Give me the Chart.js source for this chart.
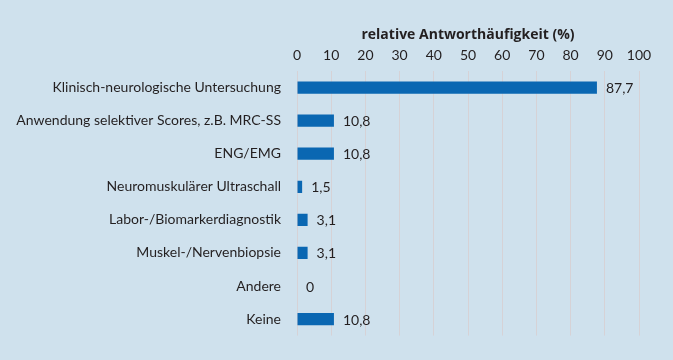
<!DOCTYPE html>
<html>
<head>
<meta charset="utf-8">
<script src="https://cdn.jsdelivr.net/npm/chart.js@4/dist/chart.umd.min.js"></script>
<style>
  html, body { margin: 0; padding: 0; background: #cfe1ed; }
  #wrap { width: 673px; height: 360px; }
</style>
</head>
<body>
<div id="wrap"><canvas id="chart" width="673" height="360"></canvas></div>
<script>
// Antworten (Mehrfachnennung), Werte in Prozent
const categories = [
    'Klinisch-neurologische Untersuchung',
    'Anwendung selektiver Scores, z.B. MRC-SS',
    'ENG/EMG',
    'Neuromuskulärer Ultraschall',
    'Labor-/Biomarkerdiagnostik',
    'Muskel-/Nervenbiopsie',
    'Andere',
    'Keine'
];
const values = [87.7, 10.8, 10.8, 1.5, 3.1, 3.1, 0, 10.8];
const xTicks = [0, 10, 20, 30, 40, 50, 60, 70, 80, 90, 100];

const fontFamily = 'Lato, "Liberation Sans", sans-serif';
const textColor = '#231f20';

// draws the value right next to each bar
const valueLabels = {
    id: 'valueLabels',
    afterDatasetsDraw(chart) {
        const ctx = chart.ctx;
        const meta = chart.getDatasetMeta(0);
        ctx.save();
        ctx.font = '14px ' + fontFamily;
        ctx.fillStyle = textColor;
        ctx.textBaseline = 'middle';
        ctx.textAlign = 'left';
        meta.data.forEach((bar, i) => {
            const txt = String(values[i]).replace('.', ',');
            ctx.fillText(txt, bar.x + 9, bar.y + 1);
        });
        ctx.restore();
    }
};

new Chart(document.getElementById('chart'), {
    type: 'bar',
    data: {
        labels: categories,
        datasets: [{
            data: values,
            backgroundColor: '#0a67b2',
            borderWidth: 0,
            barPercentage: 0.37,
            categoryPercentage: 1
        }]
    },
    options: {
        indexAxis: 'y',
        responsive: false,
        animation: false,
        layout: {
            padding: { left: 0, right: 34, top: 19, bottom: 24 }
        },
        plugins: {
            legend: { display: false },
            tooltip: { enabled: false }
        },
        scales: {
            x: {
                position: 'top',
                min: 0,
                max: 100,
                afterBuildTicks: scale => {
                    scale.ticks = xTicks.map(v => ({ value: v }));
                },
                afterFit: scale => { scale.height = 52; },
                border: { display: false },
                grid: {
                    color: '#d6d2d6',
                    lineWidth: 1,
                    drawTicks: false
                },
                ticks: {
                    color: textColor,
                    padding: 7,
                    font: { family: fontFamily, size: 14 }
                },
                title: {
                    display: true,
                    text: 'relative Antworthäufigkeit (%)',
                    color: textColor,
                    padding: { top: 8, bottom: 2 },
                    font: { family: '"Open Sans", ' + fontFamily, size: 14, weight: 'bold' }
                }
            },
            y: {
                afterFit: scale => { scale.width = 297; },
                border: { display: false },
                grid: { display: false, drawTicks: false },
                ticks: {
                    color: textColor,
                    padding: 16,
                    font: { family: fontFamily, size: 14 }
                }
            }
        }
    },
    plugins: [valueLabels]
});
</script>
</body>
</html>
